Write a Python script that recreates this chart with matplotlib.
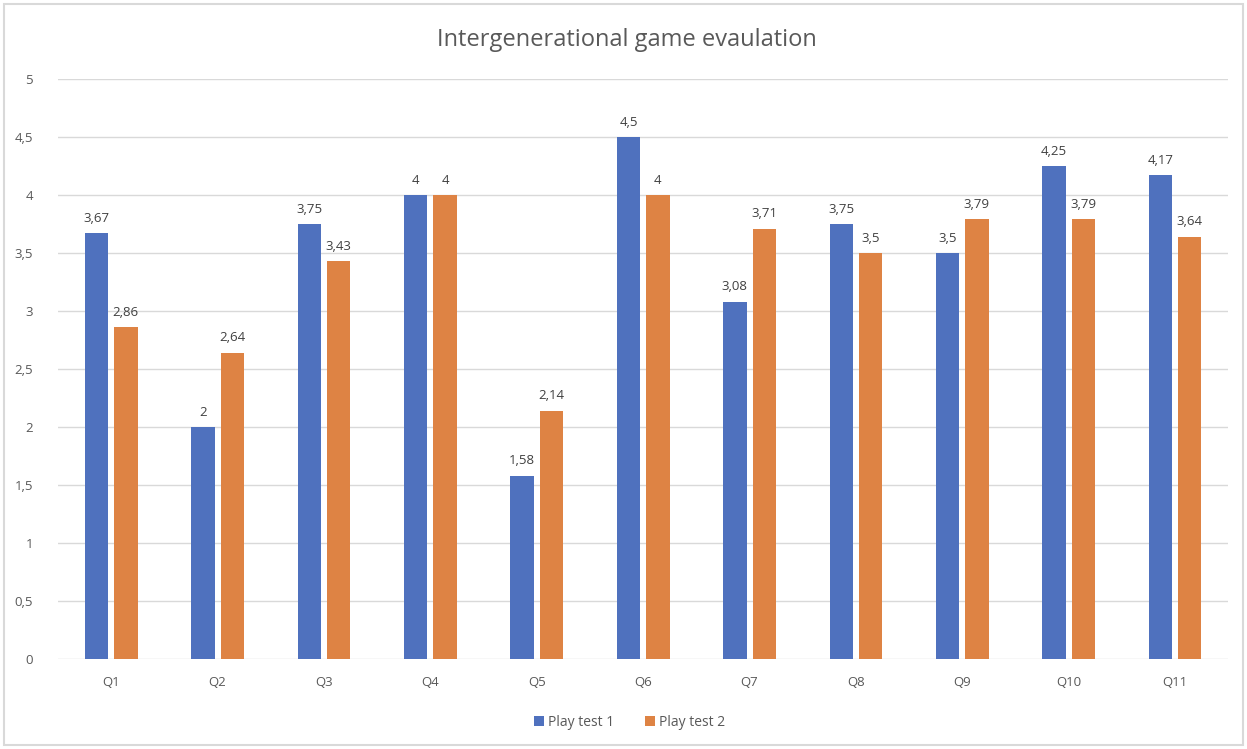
import numpy as np
import matplotlib.pyplot as plt
from matplotlib.patches import Rectangle

categories = ["Q1", "Q2", "Q3", "Q4", "Q5", "Q6", "Q7", "Q8", "Q9", "Q10", "Q11"]
play_test_1 = [3.67, 2, 3.75, 4, 1.58, 4.5, 3.08, 3.75, 3.5, 4.25, 4.17]
play_test_2 = [2.86, 2.64, 3.43, 4, 2.14, 4, 3.71, 3.5, 3.79, 3.79, 3.64]
y_ticks = [0, 0.5, 1, 1.5, 2, 2.5, 3, 3.5, 4, 4.5, 5]

BLUE = "#4f71be"
ORANGE = "#de8344"
TEXT = "#595959"
GRID = "#d9d9d9"

plt.rcParams["font.family"] = ["Open Sans", "DejaVu Sans"]


def comma(v):
    return f"{v:g}".replace(".", ",")


fig = plt.figure(figsize=(12.47, 7.49), dpi=100)
fig.patches.append(Rectangle((4 / 1247, 4 / 749), 1239 / 1247, 741 / 749,
                             transform=fig.transFigure, fill=False,
                             edgecolor=GRID, linewidth=1.5))
ax = fig.add_axes([0.0465, 0.1202, 0.985 - 0.0465, 0.8945 - 0.1202])

x = np.arange(len(categories))
w = 0.22
off = 0.138
b1 = ax.bar(x - off, play_test_1, w, color=BLUE, label="Play test 1", zorder=3)
b2 = ax.bar(x + off, play_test_2, w, color=ORANGE, label="Play test 2", zorder=3)

for bars, vals in ((b1, play_test_1), (b2, play_test_2)):
    for rect, v in zip(bars, vals):
        ax.annotate(comma(v), (rect.get_x() + rect.get_width() / 2, v),
                    xytext=(0, 6), textcoords="offset points",
                    ha="center", va="bottom", fontsize=9.5, color="#404040")

ax.set_xlim(-0.5, len(categories) - 0.5)
ax.set_ylim(0, 5)
ax.set_yticks(y_ticks)
ax.set_yticklabels([comma(t) for t in y_ticks])
ax.set_xticks(x)
ax.set_xticklabels(categories)
ax.tick_params(axis="both", length=0, labelsize=9.5, colors=TEXT)
ax.tick_params(axis="y", pad=18)
ax.tick_params(axis="x", pad=12)
ax.yaxis.grid(True, color=GRID, linewidth=1, zorder=0)
for s in ax.spines.values():
    s.set_visible(False)

fig.text(0.503, 0.947, "Intergenerational game evaulation", ha="center",
         va="center", fontsize=17, color=TEXT)

fig.legend(loc="center", bbox_to_anchor=(0.505, 0.036), ncol=2, frameon=False,
           fontsize=10, handlelength=0.7, handleheight=0.7, handletextpad=0.3,
           columnspacing=2.2, labelcolor=TEXT)

fig.savefig("out.png", dpi=100)
